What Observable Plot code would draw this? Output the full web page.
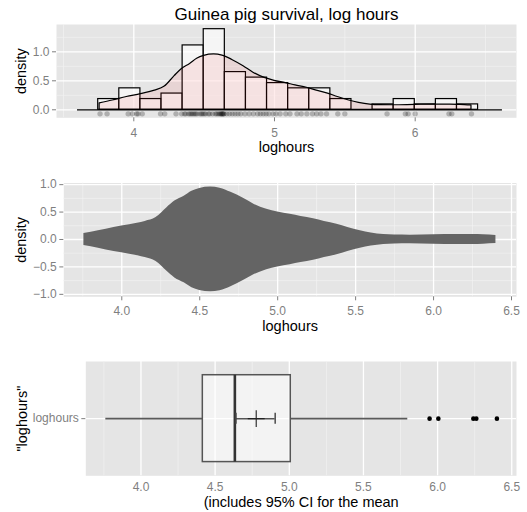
<!DOCTYPE html>
<html><head><meta charset="utf-8">
<script src="https://cdn.jsdelivr.net/npm/d3@7"></script>
<script src="https://cdn.jsdelivr.net/npm/@observablehq/plot@0.6"></script>
<style>
body{margin:0;background:#fff;}
#chart{position:relative;width:527px;height:512px;font-family:"Liberation Sans",Arial,Helvetica,sans-serif;}
#chart svg{position:absolute;left:0;}
</style></head><body><div id="chart"></div>
<script>
// ---- data ----
const loghours = [3.76,3.81,3.96,3.99,4.02,4.03,4.06,4.19,4.22,4.30,4.34,
  4.36,4.37,4.39,4.40,4.41,4.42,4.43,4.44,4.45,4.47,4.48,4.49,
  4.50,4.51,4.53,4.54,4.56,4.58,4.59,4.60,4.61,4.62,4.62,4.63,4.63,4.64,4.64,
  4.66,4.68,4.70,4.72,4.74,4.76,4.79,4.82,4.85,4.88,4.90,4.92,4.94,
  4.96,4.99,5.01,5.04,5.08,5.11,5.16,5.19,5.23,5.27,5.30,5.33,5.37,
  5.45,5.50,5.80,5.93,5.95,6.00,6.24,6.26,6.40];
const binEdges = [3.747,3.897,4.047,4.197,4.347,4.497,4.647,4.797,4.947,5.097,5.247,5.397,5.547,5.697,5.847,5.997,6.147,6.297,6.447];
const binDensity = [0.185,0.37,0.185,0.28,1.11,1.39,0.65,0.555,0.46,0.37,0.37,0.185,0,0.093,0.185,0.093,0.185,0.093];
const densX = [3.757,3.85,3.95,4.05,4.15,4.22,4.29,4.34,4.40,4.45,4.50,4.57,4.63,4.70,4.78,4.85,4.93,5.00,5.08,5.15,5.23,5.30,5.38,5.45,5.53,5.60,5.68,5.75,5.85,6.00,6.15,6.25,6.32,6.40];
const densY = [0.11,0.16,0.22,0.27,0.33,0.40,0.58,0.70,0.79,0.88,0.93,0.955,0.935,0.86,0.75,0.64,0.55,0.50,0.46,0.42,0.38,0.33,0.28,0.22,0.16,0.12,0.09,0.08,0.078,0.085,0.09,0.09,0.085,0.075];
const boxQ1 = 4.417, boxMedian = 4.633, boxQ3 = 5.010;
const whiskerLow = 3.763, whiskerHigh = 5.799;
const outliers = [5.946,6.005,6.241,6.261,6.400];
const meanValue = 4.777, ciLow = 4.640, ciHigh = 4.905;

const xTicks1 = [4,5,6], xMinor1 = [3.5,4.5,5.5,6.5];
const yTicks1 = [0,0.5,1.0], yMinor1 = [0.25,0.75,1.25];
const xTicks2 = [4.0,4.5,5.0,5.5,6.0,6.5], xMinor2 = [3.75,4.25,4.75,5.25,5.75,6.25];
const yTicks2 = [-1,-0.5,0,0.5,1], yMinor2 = [-0.75,-0.25,0.25,0.75];

const titleText = "Guinea pig survival, log hours";
const xTitle = "loghours";
const yTitle = "density";
const boxXTitle = "(includes 95% CI for the mean";
const boxYTitle = "\"loghours\"";
const boxCategory = "loghours";

// ---- tables ----
const bins = binDensity.map((d,i)=>({x1: binEdges[i], x2: binEdges[i+1], y: d}));
const dens = densX.map((x,i)=>({x, y: densY[i]}));
const boxRow = [{q1: boxQ1, q3: boxQ3, med: boxMedian, lo: whiskerLow, hi: whiskerHigh, mean: meanValue, ciL: ciLow, ciH: ciHigh}];

const FONT = '"Liberation Sans",Arial,Helvetica,sans-serif';
const baseStyle = {background:"transparent", fontFamily: FONT, fontSize:"12px", color:"black", overflow:"visible"};
const grey = "#7f7f7f";
const f1 = d3.format(".1f");
const chart = document.getElementById("chart");
function place(svg, top){ svg.style.top = top + "px"; chart.appendChild(svg); }
const mid = {textAnchor:"middle", lineAnchor:"middle", fill:"black"};

// ---- panel 1: histogram + density ----
const p1 = Plot.plot({
  width: 527, height: 160,
  marginTop: 24, marginBottom: 42.7, marginLeft: 56, marginRight: 11,
  style: baseStyle,
  x: {domain: [3.4506, 6.72], label: null},
  y: {domain: [-0.138, 1.4707], label: null},
  marks: [
    Plot.frame({fill:"#e5e5e5", stroke:"none"}),
    Plot.gridX(xMinor1, {stroke:"#f2f2f2", strokeOpacity:1, strokeWidth:0.7}),
    Plot.gridY(yMinor1, {stroke:"#f2f2f2", strokeOpacity:1, strokeWidth:0.7}),
    Plot.gridX(xTicks1, {stroke:"white", strokeOpacity:1, strokeWidth:1.3}),
    Plot.gridY(yTicks1, {stroke:"white", strokeOpacity:1, strokeWidth:1.3}),
    Plot.axisX(xTicks1, {tickSize:4, tickPadding:6.5, color:grey, tickFormat:d=>String(d), label:null}),
    Plot.axisY(yTicks1, {tickSize:4, tickPadding:3, color:grey, tickFormat:f1, label:null}),
    Plot.ruleY([0], {x1: 3.60, x2: 6.62, stroke:"black", strokeWidth:1.2}),
    Plot.rectY(bins, {x1:"x1", x2:"x2", y:"y", fill:"white", fillOpacity:0.6, stroke:"black", strokeWidth:1.2}),
    Plot.areaY(dens, {x:"x", y:"y", curve:"monotone-x", fill:"#ff3030", fillOpacity:0.09, stroke:"black", strokeWidth:1.2}),
    Plot.dot(loghours, {x:d=>d, y:-0.07, r:2.7, fill:"black", fillOpacity:0.24}),
    Plot.text([titleText], {text:d=>d, frameAnchor:"top", dy:-9.5, fontSize:17, ...mid}),
    Plot.text([xTitle], {text:d=>d, frameAnchor:"bottom", dy:30, fontSize:14.5, ...mid}),
    Plot.text([yTitle], {text:d=>d, frameAnchor:"left", dx:-35, rotate:-90, fontSize:14.5, ...mid})
  ]
});
place(p1, 0);

// ---- panel 2: violin ----
const p2 = Plot.plot({
  width: 527, height: 180,
  marginTop: 22.5, marginBottom: 43.7, marginLeft: 63.3, marginRight: 11,
  style: baseStyle,
  x: {domain: [3.628, 6.532], label: null},
  y: {domain: [-1.045, 1.03], label: null},
  marks: [
    Plot.frame({fill:"#e5e5e5", stroke:"none"}),
    Plot.gridX(xMinor2, {stroke:"#f2f2f2", strokeOpacity:1, strokeWidth:0.7}),
    Plot.gridY(yMinor2, {stroke:"#f2f2f2", strokeOpacity:1, strokeWidth:0.7}),
    Plot.gridX(xTicks2, {stroke:"white", strokeOpacity:1, strokeWidth:1.3}),
    Plot.gridY(yTicks2, {stroke:"white", strokeOpacity:1, strokeWidth:1.3}),
    Plot.axisX(xTicks2, {tickSize:4, tickPadding:5.5, color:grey, tickFormat:f1, label:null}),
    Plot.axisY(yTicks2, {tickSize:4, tickPadding:3, color:grey, tickFormat:f1, label:null}),
    Plot.areaY(dens, {x:"x", y1:d=>-d.y, y2:"y", curve:"monotone-x", fill:"#646464"}),
    Plot.text([xTitle], {text:d=>d, frameAnchor:"bottom", dy:30, fontSize:14.5, ...mid}),
    Plot.text([yTitle], {text:d=>d, frameAnchor:"left", dx:-42.3, rotate:-90, fontSize:14.5, ...mid})
  ]
});
place(p2, 160);

// ---- panel 3: boxplot ----
const p3 = Plot.plot({
  width: 527, height: 172,
  marginTop: 21, marginBottom: 36.7, marginLeft: 85.3, marginRight: 11,
  style: baseStyle,
  x: {domain: [3.628, 6.532], label: null},
  y: {domain: [0, 1], label: null},
  marks: [
    Plot.frame({fill:"#e5e5e5", stroke:"none"}),
    Plot.gridX(xMinor2, {stroke:"#f2f2f2", strokeOpacity:1, strokeWidth:0.7}),
    Plot.gridX(xTicks2, {stroke:"white", strokeOpacity:1, strokeWidth:1.3}),
    Plot.gridY([0.5], {stroke:"white", strokeOpacity:1, strokeWidth:1.3}),
    Plot.axisX(xTicks2, {tickSize:0, tickPadding:6.5, color:grey, tickFormat:f1, label:null}),
    Plot.axisY([0.5], {tickSize:4, tickPadding:3, color:grey, tickFormat:()=>boxCategory, label:null}),
    Plot.ruleY(boxRow, {y:0.5, x1:"lo", x2:"q1", stroke:"#5a5a5a", strokeWidth:1.8}),
    Plot.ruleY(boxRow, {y:0.5, x1:"q3", x2:"hi", stroke:"#5a5a5a", strokeWidth:1.8}),
    Plot.rect(boxRow, {x1:"q1", x2:"q3", y1:0.12, y2:0.88, fill:"white", fillOpacity:0.55, stroke:"#555", strokeWidth:1.5}),
    Plot.ruleX(boxRow, {x:"med", y1:0.12, y2:0.88, stroke:"#333", strokeWidth:2.6}),
    Plot.ruleY(boxRow, {y:0.5, x1:"ciL", x2:"ciH", stroke:"#555", strokeWidth:1.5}),
    Plot.ruleX(boxRow, {x:"ciL", y1:0.452, y2:0.548, stroke:"#444", strokeWidth:1.6}),
    Plot.ruleX(boxRow, {x:"ciH", y1:0.452, y2:0.548, stroke:"#555", strokeWidth:1.6}),
    Plot.dot(boxRow, {x:"mean", y:0.5, symbol:"plus", r:5.5, stroke:"#222", strokeWidth:1.1}),
    Plot.dot(outliers, {x:d=>d, y:0.5, r:2.3, fill:"black"}),
    Plot.text([boxXTitle], {text:d=>d, frameAnchor:"bottom", dy:27, fontSize:14.5, ...mid}),
    Plot.text([boxYTitle], {text:d=>d, frameAnchor:"left", dx:-63.8, rotate:-90, fontSize:14.5, ...mid})
  ]
});
place(p3, 340);
</script></body></html>
